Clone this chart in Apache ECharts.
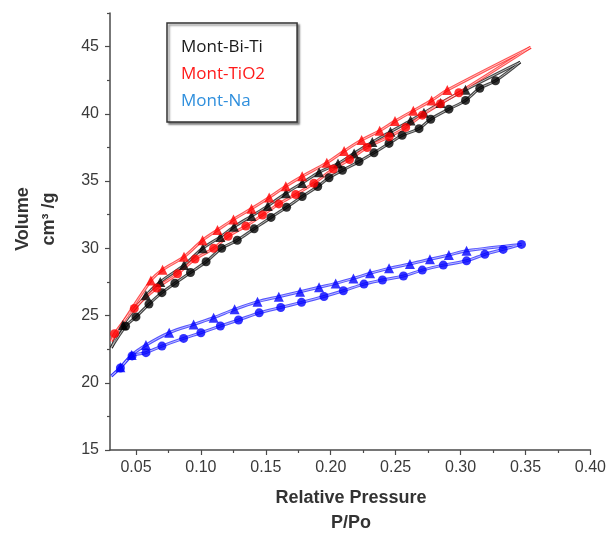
<!DOCTYPE html>
<html><head><meta charset="utf-8">
<script src="https://cdn.jsdelivr.net/npm/echarts@6/dist/echarts.min.js"></script>
<style>html,body{margin:0;padding:0;background:#fff}#c{width:609px;height:542px}</style>
</head><body><div id="c"></div>
<script>
// ---- data ----
const seriesNames = ['Mont-Bi-Ti', 'Mont-TiO2', 'Mont-Na'];

// Mont-Bi-Ti : adsorption (circles) and desorption (triangles)
const biTiAds = [[0.042,24.2],[0.050,24.9],[0.060,25.85],[0.070,26.7],[0.080,27.4],[0.092,28.2],[0.104,29.0],[0.116,30.0],[0.128,30.6],[0.141,31.45],[0.154,32.3],[0.166,33.05],[0.178,33.85],[0.190,34.6],[0.1987,35.25],[0.209,35.8],[0.2218,36.45],[0.2333,37.1],[0.2449,37.8],[0.255,38.4],[0.268,38.9],[0.277,39.6],[0.291,40.35],[0.3038,41.0],[0.3148,41.9],[0.3269,42.46]];
const biTiDes = [[0.040,24.3],[0.0577,26.5],[0.0687,27.5],[0.087,28.75],[0.1015,30.0],[0.115,30.85],[0.1255,31.6],[0.139,32.4],[0.1515,33.15],[0.1655,34.1],[0.178,34.85],[0.191,35.65],[0.2056,36.3],[0.218,37.06],[0.232,37.9],[0.246,38.67],[0.2615,39.5],[0.2718,40.08],[0.2846,40.8],[0.3038,41.8]];
const biTiLineStart = [0.031, 22.6];
const biTiLineEnd = [0.346, 43.85];

// Mont-TiO2
const tio2Ads = [[0.0335,23.65],[0.0487,25.53],[0.066,27.05],[0.082,28.1],[0.0955,29.2],[0.1098,30.0],[0.121,30.9],[0.1346,31.65],[0.1474,32.47],[0.160,33.3],[0.173,34.0],[0.187,34.83],[0.202,35.9],[0.2145,36.6],[0.228,37.5],[0.245,38.3],[0.2577,38.99],[0.2705,39.9],[0.2845,40.75],[0.2987,41.57]];
const tio2Des = [[0.0615,27.6],[0.0705,28.4],[0.087,29.37],[0.1013,30.6],[0.1128,31.36],[0.1251,32.15],[0.139,32.95],[0.1526,33.78],[0.1654,34.62],[0.178,35.35],[0.197,36.36],[0.2103,37.23],[0.2238,38.05],[0.2377,38.74],[0.2495,39.46],[0.2636,40.23],[0.2777,41.0],[0.2898,41.77]];
const tio2LineStart = [0.031, 23.1];
const tio2LineEnd = [0.354, 44.95];

// Mont-Na
const naAds = [[0.038,21.1],[0.047,22.0],[0.0577,22.24],[0.070,22.73],[0.0867,23.3],[0.100,23.72],[0.115,24.22],[0.129,24.67],[0.1449,25.2],[0.1615,25.6],[0.1775,25.98],[0.1948,26.42],[0.2097,26.84],[0.2256,27.34],[0.2398,27.64],[0.256,27.94],[0.2705,28.38],[0.2867,28.75],[0.3046,29.07],[0.3187,29.55],[0.3328,29.92],[0.3469,30.29]];
const naDes = [[0.038,21.15],[0.0467,22.06],[0.0577,22.8],[0.0756,23.72],[0.0944,24.34],[0.1098,24.84],[0.126,25.46],[0.1436,26.03],[0.160,26.4],[0.1764,26.77],[0.191,27.1],[0.2038,27.39],[0.2175,27.76],[0.2303,28.14],[0.2449,28.51],[0.261,28.83],[0.2764,29.18],[0.291,29.5],[0.3046,29.82]];
const naLineStart = [0.031, 20.5];
const naLineEnd = [0.3469, 30.29];

// axis ticks
const xTickValues = [0.05,0.10,0.15,0.20,0.25,0.30,0.35,0.40];
const xMinorValues = [0.075,0.125,0.175,0.225,0.275,0.325,0.375];
const yTickValues = [15,20,25,30,35,40,45];
const yMinorValues = [17.5,22.5,27.5,32.5,37.5,42.5,47.5];

const xTitle = 'Relative Pressure';
const xTitle2 = 'P/Po';
const yTitle = 'Volume';
const yTitle2 = 'cm³ /g';

// ---- styling ----
const markerColors = ['#000000', '#ff0000', '#0000ff'];
const lineColors = ['#1a1a1a', '#ff2a2a', '#2a2aff'];
const legendColors = ['#1a1a1a', '#ff1a1a', '#2f8fdd'];

const groups = [
  {ads: biTiAds, des: biTiDes, start: biTiLineStart, end: biTiLineEnd},
  {ads: tio2Ads, des: tio2Des, start: tio2LineStart, end: tio2LineEnd},
  {ads: naAds, des: naDes, start: naLineStart, end: naLineEnd}
];

const series = [];
// lines first (under markers)
groups.forEach((g, i) => {
  [g.ads, g.des].forEach((pts, k) => {
    const lineData = [g.start].concat(pts, [g.end]);
    series.push({
      type: 'line', name: 'fit' + i + k, data: lineData, showSymbol: false, symbol: 'none',
      smooth: 0.35, silent: true, z: 1,
      lineStyle: {color: lineColors[i], width: 3, opacity: 0.8}
    });
    series.push({
      type: 'line', name: 'fitin' + i + k, data: lineData, showSymbol: false, symbol: 'none',
      smooth: 0.35, silent: true, z: 2,
      lineStyle: {color: '#ffffff', width: 1, opacity: 0.6}
    });
  });
});
groups.forEach((g, i) => {
  series.push({
    type: 'scatter', name: seriesNames[i], data: g.ads, symbol: 'circle',
    symbolSize: 9, z: 5, itemStyle: {color: markerColors[i]}
  });
  series.push({
    type: 'scatter', name: seriesNames[i], data: g.des, symbol: 'triangle',
    symbolSize: 10, z: 5, itemStyle: {color: markerColors[i]}
  });
});

const axisColor = '#4a4a4a';
const labelFont = {fontFamily: 'Liberation Sans, Arial, sans-serif', fontSize: 16, color: '#3a3a3a'};

const chart = echarts.init(document.getElementById('c'), null, {renderer: 'canvas'});
chart.setOption({
  animation: false,
  backgroundColor: '#ffffff',
  grid: {left: 110, right: 18, top: 13, bottom: 92, containLabel: false},
  legend: {
    orient: 'vertical', left: 167, top: 23, selectedMode: false,
    icon: 'none', itemWidth: 0, itemHeight: 14, itemGap: 10,
    padding: [16, 32, 12, 9],
    borderColor: '#333', borderWidth: 1.5, backgroundColor: '#fff',
    shadowColor: 'rgba(0,0,0,0.45)', shadowBlur: 2, shadowOffsetX: 2, shadowOffsetY: 2,
    textStyle: {fontFamily: 'Open Sans, sans-serif', fontSize: 17},
    data: seriesNames.map((n, i) => ({name: n, textStyle: {color: legendColors[i]}}))
  },
  xAxis: [{
    type: 'value', min: 0.03, max: 0.40, position: 'bottom',
    axisLine: {onZero: false, lineStyle: {color: axisColor, width: 1.5}},
    axisTick: {customValues: xTickValues, length: 5, lineStyle: {color: axisColor, width: 1.2}},
    axisLabel: Object.assign({customValues: xTickValues, margin: 10, formatter: v => v.toFixed(2)}, labelFont),
    splitLine: {show: false}
  }, {
    type: 'value', min: 0.03, max: 0.40, position: 'bottom',
    axisLine: {show: false},
    axisTick: {customValues: xMinorValues, length: 3, lineStyle: {color: axisColor, width: 1.2}},
    axisLabel: {show: false}, splitLine: {show: false}
  }],
  yAxis: [{
    type: 'value', min: 15, max: 47.5, position: 'left',
    axisLine: {show: true, onZero: false, lineStyle: {color: axisColor, width: 1.5}},
    axisTick: {customValues: yTickValues, length: 5, lineStyle: {color: axisColor, width: 1.2}},
    axisLabel: Object.assign({customValues: yTickValues, margin: 11, formatter: v => String(v)}, labelFont),
    splitLine: {show: false}
  }, {
    type: 'value', min: 15, max: 47.5, position: 'left',
    axisLine: {show: false},
    axisTick: {customValues: yMinorValues, length: 3, lineStyle: {color: axisColor, width: 1.2}},
    axisLabel: {show: false}, splitLine: {show: false}
  }],
  graphic: [
    {type: 'text', silent: true,
     style: {text: xTitle, x: 351, y: 498, align: 'center', verticalAlign: 'middle',
       font: 'bold 18px "Liberation Sans", Arial, sans-serif', fill: '#333'}},
    {type: 'text', silent: true,
     style: {text: xTitle2, x: 351, y: 523, align: 'center', verticalAlign: 'middle',
       font: 'bold 18px "Liberation Sans", Arial, sans-serif', fill: '#333'}},
    {type: 'text', silent: true, x: 23, y: 219, rotation: Math.PI / 2,
     style: {text: yTitle, x: 0, y: 0, align: 'center', verticalAlign: 'middle',
       font: 'bold 18px "Liberation Sans", Arial, sans-serif', fill: '#333'}},
    {type: 'text', silent: true, x: 49, y: 219, rotation: Math.PI / 2,
     style: {text: yTitle2, x: 0, y: 0, align: 'center', verticalAlign: 'middle',
       font: 'bold 18px "Liberation Sans", Arial, sans-serif', fill: '#333'}}
  ],
  series: series
});
</script></body></html>
